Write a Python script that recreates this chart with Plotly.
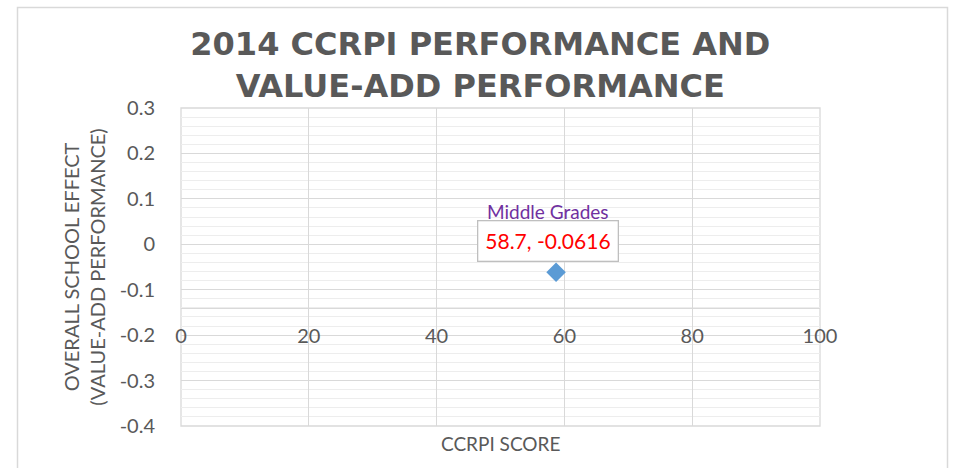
import plotly.graph_objects as go

# ---- data ----
series_name = "Middle Grades"
ccrpi_score = [58.7]
school_effect = [-0.0616]
point_labels = ["58.7, -0.0616"]

x_ticks = [0, 20, 40, 60, 80, 100]
y_ticks = [-0.4, -0.3, -0.2, -0.1, 0, 0.1, 0.2, 0.3]
y_tick_text = ["-0.4", "-0.3", "-0.2", "-0.1", "0", "0.1", "0.2", "0.3"]
x_axis_cross = -0.14

W, H = 953, 468
L, R, T, B = 181, 133, 108, 42
FONT = "Lato, 'Open Sans', sans-serif"
GRAY = "#595959"
GRID = "#D9D9D9"

fig = go.Figure()
fig.add_trace(go.Scatter(
    x=ccrpi_score, y=school_effect, mode="markers",
    marker=dict(symbol="diamond", size=15, color="#5B9BD5"),
    name=series_name, showlegend=False, hoverinfo="skip",
))

yr = [-0.4, 0.3]
pos = (x_axis_cross - yr[0]) / (yr[1] - yr[0])

fig.update_layout(
    width=W, height=H,
    margin=dict(l=L, r=R, t=T, b=B, autoexpand=False),
    paper_bgcolor="white", plot_bgcolor="white",
    font=dict(family=FONT, color=GRAY),
    title=dict(
        text="<b>2014 CCRPI PERFORMANCE AND<br>VALUE-ADD PERFORMANCE</b>",
        x=0.504, xanchor="center", xref="container",
        y=0.882, yanchor="top", yref="container",
        font=dict(size=32, color=GRAY, family="'DejaVu Sans', sans-serif"),
    ),
    xaxis=dict(
        range=[0, 100], tickvals=x_ticks, ticktext=[str(v) for v in x_ticks],
        showgrid=True, gridcolor=GRID, gridwidth=1.3,
        zeroline=False, showline=True, linecolor=GRID, linewidth=1.3,
        anchor="free", position=pos,
        ticks="outside", ticklen=10, tickcolor="rgba(0,0,0,0)",
        tickfont=dict(size=20, color=GRAY),
    ),
    yaxis=dict(
        range=yr, tickvals=y_ticks, ticktext=y_tick_text,
        showgrid=True, gridcolor=GRID, gridwidth=1.3,
        zeroline=False, showline=False,
        minor=dict(dtick=0.02, showgrid=True, gridcolor="#EDEDED", gridwidth=1),
        ticks="outside", ticklen=21, tickcolor="rgba(0,0,0,0)",
        tickfont=dict(size=20, color=GRAY),
        title=dict(text="OVERALL SCHOOL EFFECT<br>(VALUE-ADD PERFORMANCE)",
                   font=dict(size=20, color=GRAY), standoff=8),
    ),
)

# plot area border
fig.add_shape(type="rect", xref="x domain", yref="y domain", x0=0, x1=1, y0=0, y1=1,
              line=dict(color=GRID, width=1.3), layer="below")
# chart area border (open at bottom, cropped)
def px(x):
    return (x - L) / (W - L - R)
def py(y):
    return (H - B - y) / (H - T - B)
fig.add_shape(type="path", xref="paper", yref="paper",
              path=f"M {px(17.5)} {py(480)} L {px(17.5)} {py(7.5)} L {px(947.5)} {py(7.5)} L {px(947.5)} {py(480)}",
              line=dict(color="#D9D9D9", width=1.5))

# x axis title
fig.add_annotation(text="CCRPI SCORE", xref="paper", yref="paper", x=0.5, y=py(443),
                   showarrow=False, font=dict(size=19, color=GRAY), yanchor="middle")

# data labels
fig.add_annotation(text=series_name, x=ccrpi_score[0] - 1.2, y=0.073, showarrow=False,
                   font=dict(size=19, color="#7030A0"))
fig.add_annotation(text=point_labels[0], x=ccrpi_score[0] - 1.2, y=0.008, showarrow=False,
                   font=dict(size=21, color="#FF0000"), bgcolor="white",
                   bordercolor="#BFBFBF", borderwidth=1.3, borderpad=7)

fig.write_html("out.html", config={"displayModeBar": False},
               post_script="document.body.style.margin='0';document.body.style.overflow='hidden';")
